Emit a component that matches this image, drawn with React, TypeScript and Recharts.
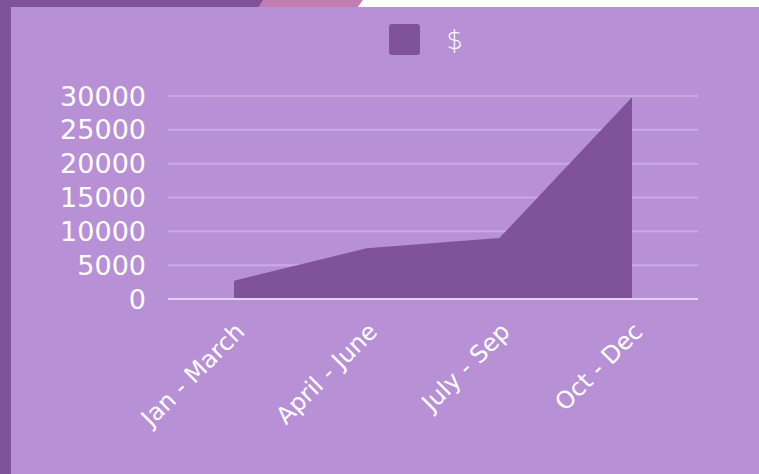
import { AreaChart, Area, XAxis, YAxis, CartesianGrid, Legend } from 'recharts';

const quarters = ['Jan - March', 'April - June', 'July - Sep', 'Oct - Dec'];
const dollars = [2700, 7500, 9000, 29800];
const yTicks = [0, 5000, 10000, 15000, 20000, 25000, 30000];

const data = quarters.map((q, i) => ({ quarter: q, value: dollars[i] }));

const FONT = '"DejaVu Sans", sans-serif';
const PANEL = '#B790D6';
const DARK = '#7F529A';

const LegendBox = () => (
  <div style={{ display: 'flex', alignItems: 'center', justifyContent: 'center', gap: 26, paddingLeft: 82 }}>
    <div style={{ width: 31, height: 31, background: DARK, borderRadius: 3 }} />
    <span style={{ color: '#fff', fontFamily: FONT, fontSize: 26, fontWeight: 300 }}>$</span>
  </div>
);

export default function App() {
  return (
    <div style={{ position: 'absolute', left: 0, top: 0, width: 759, height: 474, background: '#fff', overflow: 'hidden' }}>
      {/* top-left band and pink slant */}
      <div style={{ position: 'absolute', left: 0, top: 0, width: 264, height: 8, background: DARK }} />
      <div
        style={{
          position: 'absolute', left: 258, top: 0, width: 105, height: 8, background: '#C27EB0',
          clipPath: 'polygon(5px 0, 105px 0, 99px 100%, 0 100%)',
        }}
      />
      <div style={{ position: 'absolute', left: 0, top: 0, width: 11, height: 474, background: DARK }} />
      <div style={{ position: 'absolute', left: 11, top: 7, width: 748, height: 467, background: PANEL }}>
        <AreaChart
          width={748}
          height={467}
          data={data}
          margin={{ top: 58, right: 61, bottom: 0, left: 0 }}
        >
          <CartesianGrid vertical={false} stroke="#CBAAE4" strokeWidth={2} />
          <Legend
            verticalAlign="top"
            content={() => <LegendBox />}
            wrapperStyle={{ top: 17, left: 0, width: 748 }}
          />
          <XAxis
            dataKey="quarter"
            padding={{ left: 66, right: 66 }}
            axisLine={{ stroke: '#E4D4F0', strokeWidth: 2 }}
            tickLine={false}
            tickSize={0}
            tickMargin={22}
            interval={0}
            angle={-45}
            textAnchor="end"
            height={175}
            tick={{ fill: '#fff', fontSize: 24, fontFamily: FONT }}
          />
          <YAxis
            domain={[0, 30000]}
            ticks={yTicks}
            interval={0}
            width={157}
            axisLine={false}
            tickLine={false}
            tickSize={0}
            tickMargin={22}
            tick={{ fill: '#fff', fontSize: 27, fontFamily: FONT }}
          />
          <Area
            type="linear"
            dataKey="value"
            name="$"
            stroke={DARK}
            strokeWidth={0}
            fill={DARK}
            fillOpacity={1}
            isAnimationActive={false}
          />
        </AreaChart>
      </div>
    </div>
  );
}
